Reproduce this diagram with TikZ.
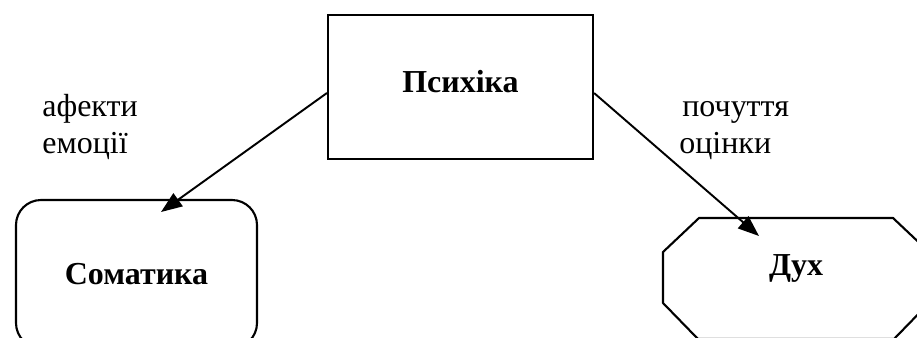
\documentclass[tikz,border=0pt]{standalone}
\usepackage{fontspec}
\setmainfont{Liberation Serif}
\usetikzlibrary{arrows.meta}
\begin{document}
\begin{tikzpicture}[
    every node/.style={font=\fontsize{18.2}{21}\selectfont},
    box/.style={draw, line width=1.2pt, font=\fontsize{18.2}{21}\selectfont\bfseries},
    word/.style={anchor=base west, inner sep=0pt},
    link/.style={line width=1.1pt, -{Triangle[length=12pt,width=9pt]}}
]
                \useasboundingbox (0,0) rectangle (18.34,6.74);
                \clip (0,0) rectangle (18.34,6.74);

                \node[box, minimum width=5.30cm, minimum height=2.88cm, text depth=0.22cm] (psy) at (9.21,5.0) {Психіка};

                \node[box, rounded corners=0.5cm, minimum width=4.82cm, minimum height=2.96cm] (som) at (2.73,1.26) {Соматика};

                \draw[line width=1.2pt] (13.26,1.70) -- (13.98,2.38) -- (17.86,2.38) -- (18.58,1.70)
                    -- (18.58,0.68) -- (17.88,-0.04) -- (13.96,-0.04) -- (13.26,0.68) -- cycle;
                \node[anchor=base, font=\fontsize{18.2}{21}\selectfont\bfseries] (duh) at (15.92,1.24) {Дух};

                \node[word] (aff) at (0.84,4.42) {афекти};
                \node[word] (emo) at (0.84,3.68) {емоції};
                \node[word] (feel) at (13.64,4.42) {почуття};
                \node[word] (eval) at (13.58,3.68) {оцінки};

                \coordinate (somTip) at (3.22,2.50);
                \coordinate (duhTip) at (15.18,2.02);

                \draw[link] ([yshift=-0.12cm]psy.west) -- (somTip);
                \draw[link] ([yshift=-0.12cm]psy.east) -- (duhTip);
            \end{tikzpicture}
\end{document}
